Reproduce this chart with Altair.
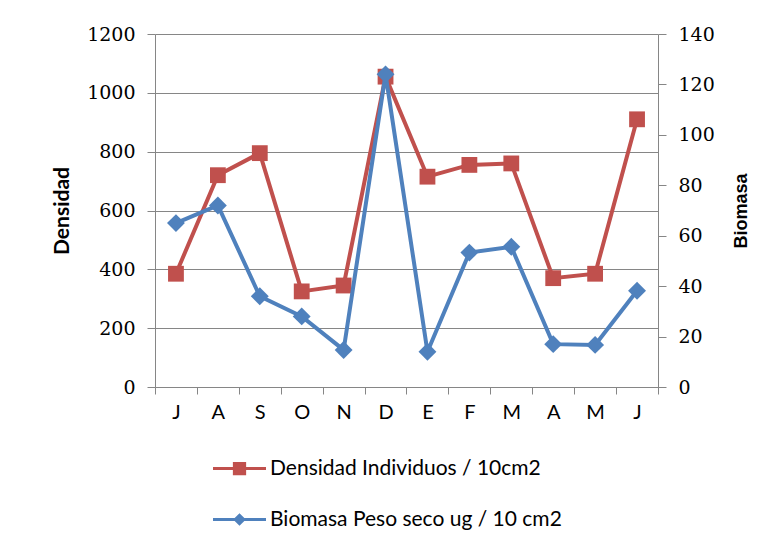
import json
import altair as alt
import pandas as pd

months = ["J", "A", "S", "O", "N", "D", "E", "F", "M", "A", "M", "J"]
densidad = [385, 720, 795, 325, 345, 1055, 715, 755, 760, 370, 385, 910]
biomasa = [65, 72, 36, 28, 14.7, 124, 14, 53.3, 55.6, 17, 16.7, 38.2]
dens_ticks = [0, 200, 400, 600, 800, 1000, 1200]
bio_ticks = [0, 20, 40, 60, 80, 100, 120, 140]
name_d = "Densidad Individuos / 10cm2"
name_b = "Biomasa Peso seco ug / 10 cm2"

RED = "#C0504D"
BLUE = "#4F81BD"
GRAY = "#868686"

df = pd.DataFrame({"idx": list(range(len(months))), "densidad": densidad, "biomasa": biomasa})
label_expr = json.dumps(months) + "[datum.value]"

x_enc = alt.X(
    "idx:O",
    scale=alt.Scale(type="band", paddingInner=0, paddingOuter=0),
    axis=alt.Axis(
        title=None, labelExpr=label_expr, labelAngle=0, tickBand="extent",
        domainColor=GRAY, tickColor=GRAY, tickSize=7, labelPadding=8,
        labelFont="Lato", labelFontSize=20, labelColor="black", grid=False,
    ),
)

y_d = alt.Y(
    "densidad:Q",
    scale=alt.Scale(domain=[0, 1200]),
    axis=alt.Axis(
        orient="left", values=dens_ticks, format="d", title="Densidad", grid=True, gridColor=GRAY,
        domainColor=GRAY, tickColor=GRAY, tickSize=8, labelPadding=12,
        labelFont="DejaVu Serif", labelFontSize=19, labelColor="black",
        titleFont="Lato", titleFontSize=21, titleFontWeight="bold", titleColor="black",
        titlePadding=14,
    ),
)
y_b = alt.Y(
    "biomasa:Q",
    scale=alt.Scale(domain=[0, 140]),
    axis=alt.Axis(
        orient="right", values=bio_ticks, format="d", title="Biomasa", grid=False,
        domainColor=GRAY, tickColor=GRAY, tickSize=8, labelPadding=12,
        labelFont="DejaVu Serif", labelFontSize=19, labelColor="black",
        titleFont="Liberation Sans", titleFontSize=18, titleFontWeight="bold", titleColor="black",
        titlePadding=36, titleAngle=270,
    ),
)

path_d = "M-1,-0.06H1V0.06H-1Z M-0.25,-0.25H0.25V0.25H-0.25Z"
path_b = "M-1,-0.06H1V0.06H-1Z M0,-0.24L0.24,0L0,0.24L-0.24,0Z"

base = alt.Chart(df)


def legend(path, ly):
    return alt.Legend(orient="none", legendX=58, legendY=ly, title=None,
                      symbolType=path, symbolSize=2809, symbolStrokeWidth=0,
                      labelFont="Lato", labelFontSize=21, labelColor="black",
                      labelOffset=4, labelLimit=0)


line_d = base.mark_line(color=RED, strokeWidth=4).encode(x=x_enc, y=y_d)
pt_d = base.mark_point(shape="square", size=250, filled=True, opacity=1).transform_calculate(
    serie=json.dumps(name_d)
).encode(
    x=x_enc, y=y_d,
    color=alt.Color("serie:N", scale=alt.Scale(domain=[name_d], range=[RED]),
                    legend=legend(path_d, 408)),
)
line_b = base.mark_line(color=BLUE, strokeWidth=4).encode(x=x_enc, y=y_b)
pt_b = base.mark_point(shape="diamond", size=320, filled=True, opacity=1).transform_calculate(
    serie=json.dumps(name_b)
).encode(
    x=x_enc, y=y_b,
    color=alt.Color("serie:N", scale=alt.Scale(domain=[name_b], range=[BLUE]),
                    legend=legend(path_b, 459)),
)

dens = alt.layer(line_d, pt_d)
bio = alt.layer(line_b, pt_b)

chart = alt.layer(dens, bio).resolve_scale(y="independent", color="independent").properties(
    width=503, height=353,
    autosize=alt.AutoSizeParams(type="none"),
    padding={"left": 147, "top": 26, "right": 113, "bottom": 153},
    background="white",
).configure_view(strokeWidth=0)

chart.save("out.html", embed_options={"renderer": "svg", "actions": False})
